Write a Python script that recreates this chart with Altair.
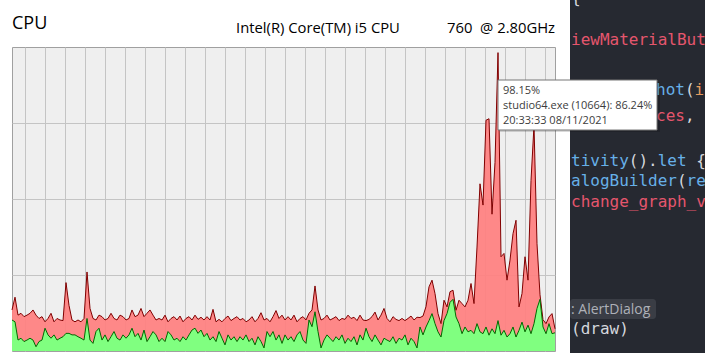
import altair as alt
import pandas as pd

# ---------------- data (percent CPU, one sample every 3 s) ----------------
total_cpu = [
    13.5, 17.7, 11.8, 12.4, 11.3, 11.8, 12.4, 13.5, 11.8, 10.7, 11.3, 9.6, 10.7, 12.4, 9.6, 10.7,
    10.2, 10.0, 22.5, 15.0, 10.2, 9.6, 10.2, 9.6, 10.7, 26.0, 14.0,
    10.7, 10.2, 11.8, 11.3, 10.2, 10.7, 12.4, 10.7, 10.2, 11.8, 11.3, 10.2, 10.7, 13.5, 11.3, 11.8, 14.0, 11.3, 12.4, 13.5,
    11.8, 10.2, 10.7, 10.2, 11.8, 9.6, 10.7, 11.3, 10.2, 11.5, 9.6, 10.7, 11.3, 10.2, 11.8, 10.4, 11.1, 10.2, 11.3, 10.2,
    13.7, 9.6, 10.4, 9.6, 10.7, 11.5, 10.0, 10.7, 11.3, 10.2, 10.7, 9.6, 10.2, 11.3, 9.6, 10.7, 12.6, 10.2, 10.7, 9.6,
    11.3, 13.3, 10.7, 11.8, 10.2, 11.3,
    10.2, 11.8, 9.6, 10.7, 11.3, 10.2, 12.4, 13.5, 21.4, 13.5, 10.2, 10.7, 11.8, 10.2, 10.7, 11.3, 10.0, 10.7, 10.4, 11.8,
    10.7, 11.1, 10.0, 11.8, 10.2, 10.0, 10.4, 11.3, 12.8, 10.2, 11.8, 14.0, 10.7, 9.6, 11.3, 10.4, 10.0, 10.7, 10.0, 10.7,
    11.5, 10.2, 11.1,
    11.0, 11.5, 14.6, 21.1, 23.3, 18.9, 12.3, 9.0, 16.7, 14.5, 19.5, 20.0, 13.4, 16.7, 15.6, 14.5, 16.7, 22.2, 15.6, 34.2,
    55.0, 48.0, 75.9, 76.4, 45.0, 62.0, 98.15, 31.0, 32.1, 23.3, 29.9, 38.6, 43.0, 14.5, 18.9, 31.0, 23.3, 56.1, 74.2, 35.3,
    18.5, 10.3, 9.0, 11.2, 12.3, 7.3,
]
kernel_cpu = [
    10.2, 9.6, 3.6, 4.2, 3.1, 3.6, 4.2, 3.6, 1.4, 3.1, 3.6, 7.5, 5.3, 4.2, 5.3, 3.6,
    4.2, 4.7, 5.8, 5.8, 5.3, 5.3, 4.7, 4.2, 3.6, 10.7, 3.6,
    2.5, 6.4, 7.5, 3.6, 5.3, 3.1, 4.7, 6.4, 4.2, 3.6, 5.3, 4.2, 5.3, 7.5, 4.7, 5.8, 3.6, 6.9, 3.1, 4.7,
    6.4, 5.3, 3.1, 4.2, 3.1, 6.4, 5.3, 3.6, 4.2, 3.1, 4.7, 3.6, 5.3, 6.9, 7.5, 5.8, 6.9, 4.7, 5.8, 3.6,
    4.7, 3.1, 6.4, 4.2, 2.0, 5.3, 3.6, 4.7, 3.1, 4.7, 3.6, 5.3, 3.1, 4.2, 2.0, 4.7, 3.1, 1.0, 6.4, 4.7,
    6.4, 3.6, 5.3, 2.5, 5.3, 3.6,
    4.7, 3.1, 5.3, 6.4, 3.6, 2.5, 10.2, 8.0, 12.9, 6.4, 1.0, 3.6, 5.3, 4.2, 3.1, 4.7, 3.6, 5.3, 2.5, 4.2,
    3.1, 4.7, 2.0, 5.3, 3.6, 7.5, 4.7, 3.1, 5.3, 3.6, 2.0, 4.2, 3.6, 3.1, 4.7, 2.5, 4.2, 3.6, 5.3, 2.0,
    4.2, 3.1, 1.0,
    7.9, 5.3, 7.9, 10.0, 12.3, 9.0, 6.3, 4.6, 10.0, 12.3, 16.0, 17.0, 11.2, 9.0, 5.7, 7.9, 6.3, 6.8, 5.7, 9.0,
    6.3, 5.7, 7.9, 5.2, 7.3, 5.7, 10.0, 5.2, 6.8, 4.6, 5.7, 7.9, 4.6, 6.8, 9.5, 6.3, 8.5, 5.7, 9.0, 14.0,
    17.0, 7.9, 5.7, 9.0, 5.7, 6.0,
]
sample_seconds = 3
grid_seconds = list(range(13, 543, 20))
grid_percent = [25, 50, 75]

title_text = "CPU"
cpu_model = "Intel(R) Core(TM) i5 CPU"
cpu_speed = "760\u00a0\u00a0@ 2.80GHz"
tip_lines = ["98.15%", "studio64.exe (10664): 86.24%", "20:33:33 08/11/2021"]

n = min(len(total_cpu), len(kernel_cpu))
df = pd.DataFrame({
    "t": [i * sample_seconds for i in range(n)],
    "total": total_cpu[:n],
    "kernel": kernel_cpu[:n],
})

# ---------------- layout ----------------
OX, OY = 12, 47          # plot box origin in the window
W, H = 543, 304          # plot box size
one = pd.DataFrame({"k": [0]})

def px(x):
    return x - OX

def py(y):
    return y - OY

def txt(s, x, y, size, color, font="Open Sans", weight="normal"):
    return alt.Chart(one).mark_text(
        text=s, fontSize=size, color=color, font=font, align="left",
        baseline="alphabetic", fontWeight=weight,
    ).encode(x=alt.value(px(x)), y=alt.value(py(y)))

def box(x1, x2, y1, y2, fill, stroke=None, radius=0, opacity=1):
    kw = dict(fill=fill, cornerRadius=radius, opacity=opacity)
    if stroke:
        kw.update(stroke=stroke, strokeWidth=1)
    return alt.Chart(one).mark_rect(**kw).encode(
        x=alt.value(px(x1)), x2=alt.value(px(x2)),
        y=alt.value(py(y1)), y2=alt.value(py(y2)))

grid_axis_x = alt.Axis(values=grid_seconds, labels=False, ticks=False, domain=False,
                       title=None, grid=True, gridColor="#c4c4c4", gridWidth=1)
grid_axis_y = alt.Axis(values=grid_percent, labels=False, ticks=False, domain=False,
                       title=None, grid=True, gridColor="#c4c4c4", gridWidth=1)
xs = alt.X("t:Q", scale=alt.Scale(domain=[0, W], nice=False, zero=False), axis=grid_axis_x)

red = alt.Chart(df).mark_area(
    color="#ff8080", opacity=0.93, interpolate="linear",
    line={"color": "#800000", "strokeWidth": 1},
).encode(x=xs, y=alt.Y("total:Q", scale=alt.Scale(domain=[0, 100], nice=False), axis=grid_axis_y))

green = alt.Chart(df).mark_area(
    color="#80ff80", opacity=1, interpolate="linear",
    line={"color": "#006a00", "strokeWidth": 1},
).encode(x=xs, y=alt.Y("kernel:Q", scale=alt.Scale(domain=[0, 100], nice=False), axis=grid_axis_y))

layers = [red, green]

# header texts
layers.append(txt(title_text, 12, 29, 18, "#000000"))
layers.append(txt(cpu_model, 236, 33, 14.8, "#000000"))
layers.append(txt(cpu_speed, 447, 33, 14.8, "#000000"))

# code editor panel on the right
layers.append(box(570, 705, 0, 353, "#262931"))
ADV = 9.63
MONO = "DejaVu Sans Mono"
WHITE, PINK, BLUE, ORANGE = "#d4d7dd", "#e5566d", "#67b0e8", "#e39a5d"

def code(segments, x, y):
    out = []
    cx = x
    for s, col in segments:
        if col is not None:
            out.append(txt(s, cx, y, 16, col, font=MONO))
        cx += ADV * len(s)
    return out

layers += code([("{", WHITE)], 571, 3)
layers += code([("iewMaterialBut", PINK)], 571, 45)
layers += code([("hot", BLUE), ("(", WHITE), ("i", ORANGE)], 656, 95)
layers += code([("ces", PINK), (",", WHITE)], 656, 121)
layers += code([("tivity", BLUE), ("()", WHITE), (".", WHITE), ("let", BLUE), (" ", None), ("{", WHITE)], 571, 166)
layers += code([("alogBuilder", BLUE), ("(", WHITE), ("re", BLUE)], 571, 186)
layers += code([("change_graph_v", PINK)], 571, 207)
layers.append(box(570, 656, 299, 319, "#3a3d45", radius=3))
layers.append(txt(": AlertDialog", 571, 314, 14, "#aeb1b8"))
layers += code([("(draw)", WHITE)], 571, 334)

# tooltip
layers.append(box(500, 660, 82, 132, "#000000", opacity=0.15))
layers.append(box(498, 657, 80, 130, "#ffffff", stroke="#767676"))
for k, line in enumerate(tip_lines):
    layers.append(txt(line, 503, 94 + 15 * k, 11, "#3c3c3c"))

chart = alt.layer(*layers).properties(
    width=W, height=H,
    padding={"left": OX, "top": OY, "right": 705 - OX - W, "bottom": 353 - OY - H},
    autosize="none",
    background="#ffffff",
).configure_view(fill="#efefef", stroke="#a0a0a0", strokeWidth=1)

chart.save("out.html", embed_options={"renderer": "svg", "actions": False})
